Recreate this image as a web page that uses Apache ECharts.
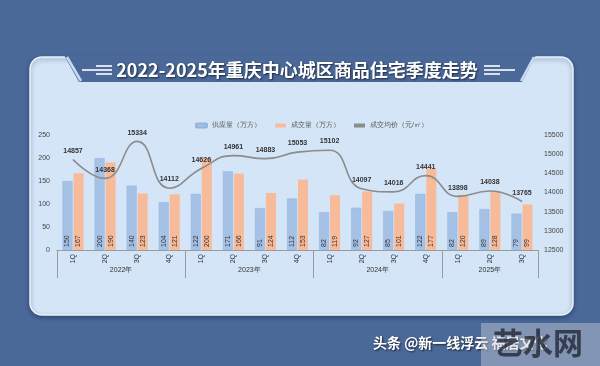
<!DOCTYPE html>
<html><head><meta charset="utf-8">
<script src="https://cdn.jsdelivr.net/npm/echarts@6/dist/echarts.min.js"></script>
<style>html,body{margin:0;padding:0;background:#4a6999}#c{width:600px;height:366px}</style>
</head><body><div id="c"></div>
<script>
var quarters = ['1Q','2Q','3Q','4Q','1Q','2Q','3Q','4Q','1Q','2Q','3Q','4Q','1Q','2Q','3Q'];
var years = ['2022年','2023年','2024年','2025年'];
var yearStart = [0,4,8,12,15];
var supply = [150,200,140,104,122,171,91,112,82,92,85,122,82,89,79];
var deals = [167,190,123,121,200,166,124,153,119,127,101,177,120,128,99];
var price = [14857,14368,15334,14112,14626,14961,14883,15053,15102,14097,14016,14441,13898,14038,13765];

// helper axis of 31 half-slot positions for the year row
var yearSlots = [];
var yearLabelIdx = {};
var yearTickIdx = {};
for (var i = 0; i < yearStart.length; i++) yearTickIdx[yearStart[i]*2] = true;
for (var j = 0; j < years.length; j++) yearLabelIdx[yearStart[j] + yearStart[j+1]] = years[j];
for (var k = 0; k <= 30; k++) yearSlots.push(yearLabelIdx[k] || '');

var chart = echarts.init(document.getElementById('c'));
var barLabel = {show:true, position:'insideBottom', rotate:90, align:'left', verticalAlign:'middle', distance:3, fontSize:7, color:'#333'};
chart.setOption({
  backgroundColor:'#4a6999',
  animation:false,
  graphic:[
    {type:'rect', shape:{x:30,y:57,width:543,height:258,r:12}, style:{fill:'#d4e5f7', stroke:'#e9f2fc', lineWidth:1.5, shadowColor:'rgba(20,40,80,0.45)', shadowBlur:4, shadowOffsetY:2}, z:-10},
    {type:'polygon', shape:{points:[[64,55],[536,55],[522,82],[79,82]]}, style:{fill:'#4a6999'}, z:-9},
    {type:'line', shape:{x1:67,y1:57,x2:81,y2:81}, style:{stroke:'#c9dcf3', lineWidth:2.5}, z:-8},
    {type:'line', shape:{x1:534,y1:57,x2:521,y2:81}, style:{stroke:'#c9dcf3', lineWidth:2.5}, z:-8},
    {type:'text', x:297, y:70, style:{text:'2022-2025年重庆中心城区商品住宅季度走势', fill:'#fff', font:'bold 18px "Noto Sans CJK SC"', textAlign:'center', textVerticalAlign:'middle', textShadowColor:'rgba(0,0,0,0.6)', textShadowBlur:2, textShadowOffsetX:1, textShadowOffsetY:1}},
    {type:'line', shape:{x1:96,y1:66,x2:112,y2:66}, style:{stroke:'#fff', lineWidth:1.6}},
    {type:'line', shape:{x1:82,y1:70,x2:112,y2:70}, style:{stroke:'#fff', lineWidth:1.6}},
    {type:'line', shape:{x1:96,y1:74,x2:112,y2:74}, style:{stroke:'#fff', lineWidth:1.6}},
    {type:'line', shape:{x1:484,y1:66,x2:500,y2:66}, style:{stroke:'#fff', lineWidth:1.6}},
    {type:'line', shape:{x1:484,y1:70,x2:515,y2:70}, style:{stroke:'#fff', lineWidth:1.6}},
    {type:'line', shape:{x1:484,y1:74,x2:500,y2:74}, style:{stroke:'#fff', lineWidth:1.6}},
    {type:'text', x:373, y:343, style:{text:'头条 @新一线浮云 福居文化', fill:'#fff', font:'bold 14px "Noto Sans CJK SC"', textVerticalAlign:'middle', textShadowColor:'rgba(0,0,0,0.7)', textShadowBlur:2, textShadowOffsetX:1, textShadowOffsetY:1}},
    {type:'rect', shape:{x:481,y:323,width:119,height:43}, style:{fill:'rgba(200,204,212,0.45)'}},
    {type:'text', x:538, y:343, style:{text:'艺水网', fill:'rgba(40,46,60,0.85)', font:'bold 30px "Noto Sans CJK SC"', textAlign:'center', textVerticalAlign:'middle'}}
  ],
  legend:{left:190, top:117, itemWidth:11, itemHeight:4, itemGap:14, textStyle:{fontSize:7, color:'#555'},
    data:[{name:'供应量（万方）'},{name:'成交量（万方）'},{name:'成交均价（元/㎡）', icon:'rect', itemStyle:{color:'#8c8c8c'}}]},
  grid:{left:57, right:62, top:135, bottom:116},
  xAxis:[
    {type:'category', data:quarters, axisLine:{lineStyle:{color:'#9a9a9a'}}, axisTick:{show:false},
     axisLabel:{rotate:90, fontSize:7, color:'#333', margin:4, interval:0}},
    {type:'category', data:yearSlots, boundaryGap:false, position:'bottom', axisLine:{show:false},
     axisTick:{show:true, length:28, interval:function(idx){return !!yearTickIdx[idx];}, lineStyle:{color:'#9a9a9a'}},
     axisLabel:{fontSize:7, color:'#333', margin:17, interval:function(idx){return yearSlots[idx] !== '';}}}
  ],
  yAxis:[
    {type:'value', min:0, max:250, interval:50, splitLine:{show:false}, axisLine:{show:false}, axisTick:{show:false}, axisLabel:{fontSize:7, color:'#444', margin:7}},
    {type:'value', min:12500, max:15500, interval:500, splitLine:{show:false}, axisLine:{show:false}, axisTick:{show:false}, axisLabel:{fontSize:7, color:'#444', margin:6, formatter:function(v){return String(v);}}}
  ],
  series:[
    {name:'供应量（万方）', type:'bar', data:supply, barWidth:10, barGap:'10%', itemStyle:{color:'#a5c2e6', borderColor:'#93b4de', borderWidth:0.5}, label:barLabel},
    {name:'成交量（万方）', type:'bar', data:deals, barWidth:10, itemStyle:{color:'#f8bb99'}, label:barLabel},
    {name:'成交均价（元/㎡）', type:'line', yAxisIndex:1, data:price, smooth:0.5, symbol:'circle', symbolSize:0.5,
     itemStyle:{color:'#8c8c8c'}, lineStyle:{color:'#8c8c8c', width:1.6},
     label:{show:true, position:'top', distance:5, fontSize:7, fontWeight:'bold', color:'#333'}}
  ]
});
</script></body></html>
